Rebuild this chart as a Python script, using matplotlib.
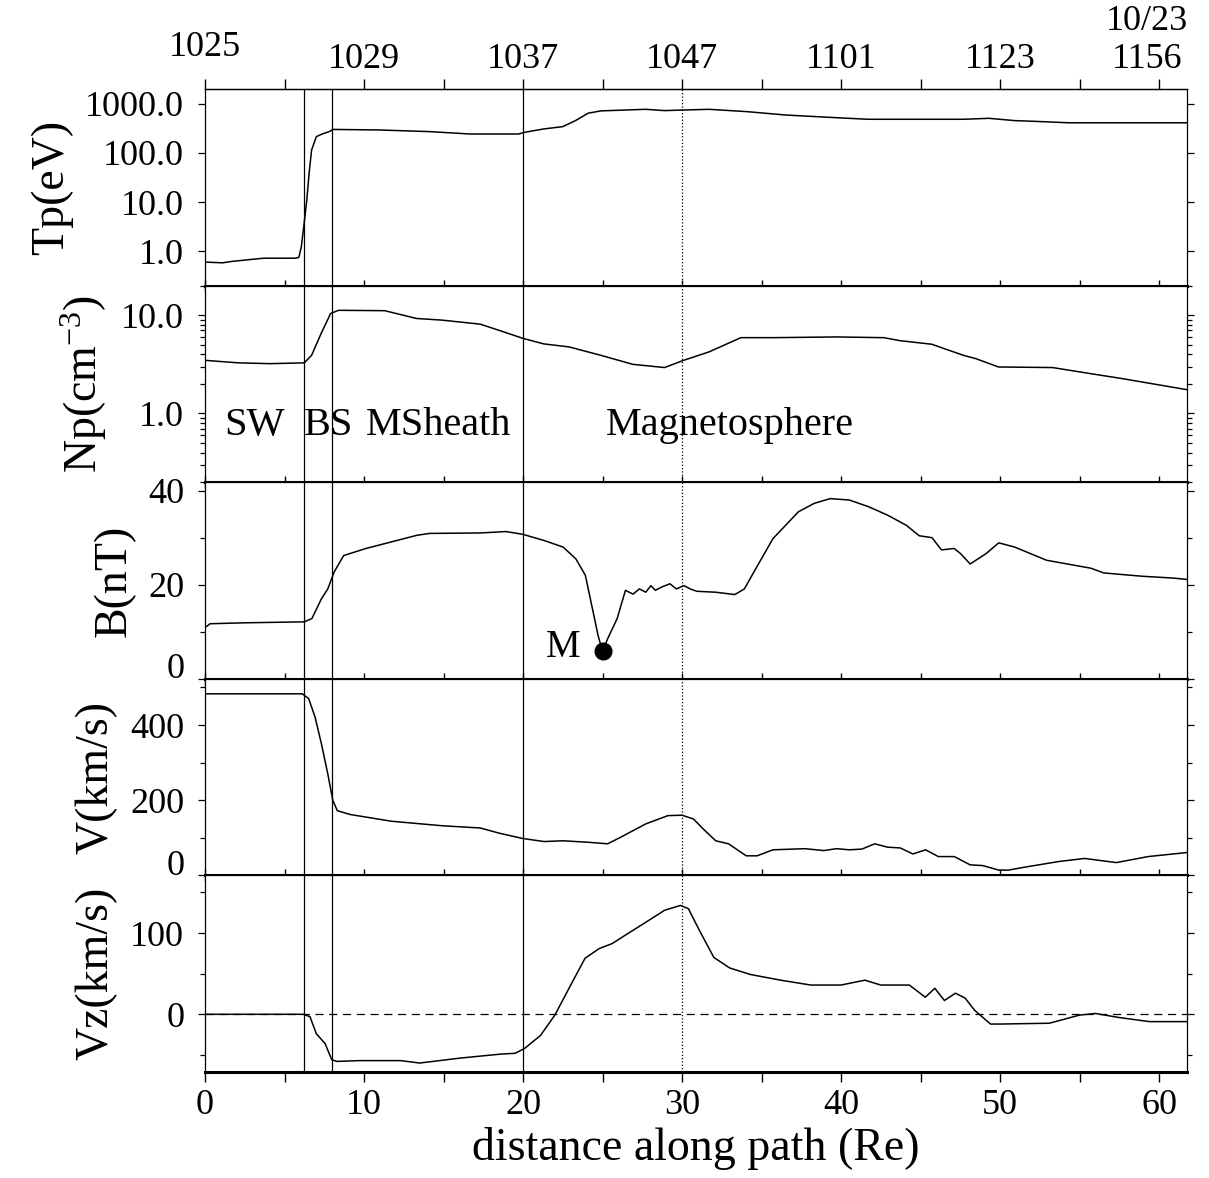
import matplotlib
matplotlib.use("Agg")
import matplotlib.pyplot as plt
from matplotlib.ticker import MultipleLocator, NullFormatter
from matplotlib.transforms import ScaledTranslation

plt.rcParams['font.family'] = ['Liberation Serif', 'DejaVu Serif']
plt.rcParams['mathtext.fontset'] = 'custom'
plt.rcParams['mathtext.rm'] = 'Liberation Serif'
plt.rcParams['mathtext.it'] = 'Liberation Serif:italic'

# boundaries (Re)
bound_x = [6.2, 8.0, 20.0]
mp_x = 30.0

# top axis: time labels
top_ticks = [0, 10, 20, 30, 40, 50, 60]
top_labels = ['1025', '1029', '1037', '1047', '1101', '1123', '10/23\n1156']

# proton temperature (eV)
tp_x = [0.0, 1.1, 1.7, 3.3, 3.7, 5.7, 5.9, 6.05, 6.2, 6.4, 6.55, 6.7, 7.0, 7.4, 7.8, 8.04,
        10.9, 14.1, 16.7, 19.7, 20.1, 21.3, 22.5, 23.3, 24.1, 24.9, 27.7, 28.9, 30.1, 31.7,
        34.1, 36.5, 39.7, 41.7, 47.7, 49.3, 50.9, 52.5, 54.3, 61.8]
tp = [0.60, 0.58, 0.62, 0.70, 0.72, 0.72, 0.75, 1.2, 3.0, 11, 40, 114, 214, 245, 270, 300,
      293, 271, 242, 242, 262, 307, 342, 454, 643, 715, 770, 725, 745, 770,
      690, 590, 520, 483, 483, 505, 454, 434, 410, 410]

# proton density (cm^-3)
np_x = [0.0, 2.1, 4.1, 6.24, 6.7, 7.3, 7.9, 8.4, 11.3, 13.3, 14.9, 17.3, 18.5, 20.0, 21.3,
        22.9, 24.9, 26.9, 28.9, 30.1, 31.7, 33.7, 35.7, 39.7, 42.7, 43.7, 45.7, 47.7, 48.5,
        49.9, 53.3, 55.7, 57.7, 61.8]
np_val = [3.47, 3.27, 3.21, 3.27, 3.9, 6.5, 10.4, 11.2, 11.1, 9.25, 8.9, 8.1, 7.0, 5.8, 5.1,
          4.75, 3.9, 3.16, 2.93, 3.47, 4.23, 5.9, 5.9, 6.0, 5.9, 5.5, 5.06, 3.9, 3.6,
          2.97, 2.93, 2.54, 2.26, 1.74]

# magnetic field (nT)
b_x = [0.04, 0.32, 2.52, 6.24, 6.72, 7.32, 7.72, 8.12, 8.72, 10.12, 11.72, 13.32, 14.12,
       17.32, 18.92, 20.0, 21.32, 22.52, 23.32, 23.92, 24.32, 24.72, 25.0, 25.32, 25.92,
       26.44, 26.92, 27.32, 27.72, 28.04, 28.32, 28.72, 29.24, 29.64, 30.12, 30.52, 30.92,
       32.12, 33.32, 33.92, 34.52, 35.72, 37.32, 38.32, 39.32, 40.52, 41.72, 42.92, 44.12,
       44.92, 45.72, 46.32, 47.12, 47.52, 48.12, 49.12, 49.92, 50.92, 52.92, 55.72, 56.52,
       58.92, 60.92, 61.8]
b = [11.0, 11.7, 11.9, 12.1, 12.8, 17.0, 19.1, 22.7, 26.2, 27.7, 29.1, 30.5, 30.9,
     31.0, 31.3, 30.7, 29.4, 28.0, 25.5, 22.0, 15.6, 9.2, 5.8, 8.5, 12.8,
     18.8, 18.0, 19.1, 18.4, 19.8, 18.8, 19.5, 20.2, 19.1, 19.8, 19.1, 18.6,
     18.4, 17.9, 19.1, 22.7, 29.8, 35.5, 37.3, 38.3, 38.0, 36.6, 34.8, 32.6,
     30.4, 30.0, 27.4, 27.7, 26.6, 24.4, 26.6, 28.9, 28.0, 25.2, 23.5, 22.5,
     21.8, 21.4, 21.1]
m_x, m_b = 25.0, 5.8

# flow speed (km/s)
v_x = [0.04, 6.12, 6.52, 6.92, 7.32, 7.72, 8.04, 8.32, 9.12, 11.72, 14.92, 17.32, 18.52,
       20.0, 21.32, 22.52, 24.12, 25.32, 26.12, 27.72, 29.12, 30.0, 30.72, 31.32, 32.12,
       32.92, 34.04, 34.72, 35.72, 37.72, 38.92, 39.72, 40.52, 41.32, 42.12, 42.92, 43.72,
       44.52, 45.32, 46.12, 47.12, 48.12, 48.92, 49.92, 50.52, 51.72, 53.72, 55.32, 57.32,
       59.32, 61.8]
v = [483, 483, 470, 421, 350, 270, 199, 172, 162, 144, 132, 126, 112,
     98, 90, 92, 88, 84, 101, 137, 159, 160, 150, 124, 92,
     84, 52, 52, 68, 71, 66, 71, 68, 70, 84, 75, 73,
     57, 68, 50, 50, 28, 26, 14, 14, 23, 37, 45, 34,
     50, 61]

# Vz (km/s)
vz_x = [0.0, 6.2, 6.6, 7.0, 7.55, 7.97, 8.3, 9.7, 12.3, 13.5, 16.0, 18.6, 19.5, 20.1, 21.1,
        22.0, 23.0, 23.9, 24.8, 25.6, 26.4, 27.7, 28.9, 29.9, 30.4, 31.1, 32.0, 33.0, 34.3,
        36.2, 38.1, 40.0, 41.5, 42.5, 44.3, 45.3, 45.9, 46.5, 47.2, 47.8, 48.4, 49.4, 50.0,
        53.1, 55.0, 56.0, 57.5, 59.4, 61.8]
vz = [0, 0, -3, -24, -36, -56, -58, -57, -57, -60, -54, -49, -48, -42, -26,
      -1, 36, 69, 81, 87, 97, 113, 128, 134, 130, 103, 70, 57, 49,
      42, 36, 36, 42, 36, 36, 21, 32, 17, 26, 20, 5, -12, -12,
      -11, -1, 1, -4, -9, -9]

TICK = 26
LAB = 33
ANN = 29

fig, axes = plt.subplots(5, 1, sharex=True, figsize=(12.09, 11.78), dpi=100,
                         gridspec_kw=dict(hspace=0, left=0.1696, right=0.9818,
                                          top=0.9245, bottom=0.09))

lw = 1.1
axes[0].plot(tp_x, tp, color='k', lw=lw)
axes[0].set_yscale('log')
axes[0].set_ylim(0.2, 2000)
axes[0].set_yticks([1, 10, 100, 1000], labels=['1.0', '10.0', '100.0', '1000.0'])
axes[0].set_ylabel('Tp(eV)')

axes[1].plot(np_x, np_val, color='k', lw=lw)
axes[1].set_yscale('log')
axes[1].set_ylim(0.2, 20)
axes[1].set_yticks([1, 10], labels=['1.0', '10.0'])
axes[1].set_ylabel(r'Np(cm$^{-3}$)')
axes[1].text(1.2, 0.76, 'SW', fontsize=ANN, va='center')
axes[1].text(6.2, 0.76, 'BS', fontsize=ANN, va='center')
axes[1].text(10.1, 0.76, 'MSheath', fontsize=ANN, va='center')
axes[1].text(25.2, 0.76, 'Magnetosphere', fontsize=ANN, va='center')

axes[2].plot(b_x, b, color='k', lw=lw)
axes[2].plot(m_x, m_b, 'o', color='k', ms=12)
axes[2].text(23.6, 6.7, 'M', fontsize=ANN - 1, ha='right', va='center')
axes[2].set_ylim(0, 41.8)
axes[2].set_yticks([0, 20, 40], labels=['0', '20', '40'])
axes[2].yaxis.set_minor_locator(MultipleLocator(10))
axes[2].set_ylabel('B(nT)')

axes[3].plot(v_x, v, color='k', lw=lw)
axes[3].set_ylim(0, 523)
axes[3].set_yticks([0, 200, 400], labels=['0', '200', '400'])
axes[3].yaxis.set_minor_locator(MultipleLocator(100))
axes[3].set_ylabel('V(km/s)')

axes[4].plot(vz_x, vz, color='k', lw=lw)
axes[4].axhline(0, color='k', lw=0.9, ls=(0, (6.5, 4.5)))
axes[4].set_ylim(-71, 171)
axes[4].set_yticks([0, 100], labels=['0', '100'])
axes[4].yaxis.set_minor_locator(MultipleLocator(50))
axes[4].set_ylabel('Vz(km/s)')
axes[4].set_xlabel('distance along path (Re)', fontsize=LAB, labelpad=4)

axes[4].set_xlim(0, 61.76)
axes[4].xaxis.set_major_locator(MultipleLocator(10))
axes[4].xaxis.set_minor_locator(MultipleLocator(5))

for i, ax in enumerate(axes):
    for xb in bound_x:
        ax.axvline(xb, color='k', lw=0.9)
    ax.axvline(mp_x, color='k', lw=0.9, ls=':')
    ax.yaxis.set_minor_formatter(NullFormatter())
    ax.yaxis.label.set_size(LAB)
    ax.yaxis.labelpad = 9
    for s in ['top', 'left', 'right']:
        ax.spines[s].set_linewidth(0.9)
    ax.spines['bottom'].set_linewidth(2.2)
    ax.tick_params(axis='y', which='both', left=True, right=True, direction='out',
                   labelsize=TICK, pad=10, width=0.9)
    ax.tick_params(axis='y', which='major', length=5)
    ax.tick_params(axis='y', which='minor', length=3.5)
    if i < 4:
        ax.tick_params(axis='x', which='both', bottom=True, top=False, direction='inout',
                       length=8.6, width=1.0, labelbottom=False)
    else:
        ax.tick_params(axis='x', which='both', bottom=True, top=False, direction='out',
                       length=7, width=1.0, labelsize=TICK, pad=5)

sec = axes[0].secondary_xaxis('top')
sec.set_xticks(top_ticks, labels=top_labels)
sec.xaxis.set_minor_locator(MultipleLocator(5))
sec.tick_params(axis='x', which='both', direction='out', length=7, width=1.0,
                labelsize=TICK, pad=2)
sec.spines['top'].set_linewidth(0.9)

# lift the bottom "0" labels like the original
for ax in (axes[2], axes[3]):
    for lab in ax.get_yticklabels():
        if lab.get_text() == '0':
            lab.set_transform(lab.get_transform() + ScaledTranslation(0, 0.13, fig.dpi_scale_trans))

tlabs = sec.get_xticklabels()
tlabs[0].set_transform(tlabs[0].get_transform() + ScaledTranslation(0, 0.12, fig.dpi_scale_trans))
tlabs[-1].set_transform(tlabs[-1].get_transform() + ScaledTranslation(-0.12, 0, fig.dpi_scale_trans))

fig.savefig('out.png', dpi=100)
